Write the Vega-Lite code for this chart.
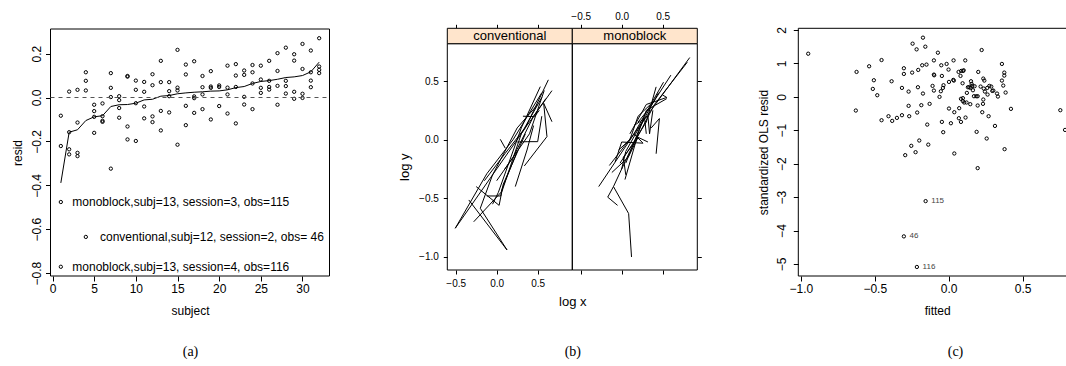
{
"$schema":"https://vega.github.io/schema/vega-lite/v6.json",
"width":1066,"height":366,"autosize":{"type":"none"},"padding":0,"background":"white",
"config":{
 "view":{"stroke":null},
 "axis":{"grid":false,"domain":false,"labelFont":"Liberation Sans","titleFont":"Liberation Sans","labelColor":"black","titleColor":"black","tickColor":"black","titleFontWeight":"normal","labelFontSize":12,"titleFontSize":12,"tickSize":5,"labelOverlap":false,"labelFlush":false,"labelBound":false,"tickWidth":1},
 "text":{"font":"Liberation Sans"}
},
"datasets":{
 "a_pts":[
  {"subject":1,"resid":-0.083},{"subject":1,"resid":-0.221},
  {"subject":2,"resid":0.027},{"subject":2,"resid":-0.158},{"subject":2,"resid":-0.236},{"subject":2,"resid":-0.259},
  {"subject":3,"resid":0.035},{"subject":3,"resid":-0.114},{"subject":3,"resid":-0.252},{"subject":3,"resid":-0.267},
  {"subject":4,"resid":0.115},{"subject":4,"resid":0.076},{"subject":4,"resid":0.032},
  {"subject":5,"resid":-0.033},{"subject":5,"resid":-0.062},{"subject":5,"resid":-0.088},{"subject":5,"resid":-0.161},
  {"subject":6,"resid":-0.027},{"subject":6,"resid":-0.085},{"subject":6,"resid":-0.106},{"subject":6,"resid":-0.111},
  {"subject":7,"resid":0.111},{"subject":7,"resid":0.044},{"subject":7,"resid":0.002},{"subject":7,"resid":-0.324},
  {"subject":8,"resid":0.006},{"subject":8,"resid":-0.012},{"subject":8,"resid":-0.048},{"subject":8,"resid":-0.092},
  {"subject":9,"resid":0.098},{"subject":9,"resid":0.095},{"subject":9,"resid":-0.132},{"subject":9,"resid":-0.191},
  {"subject":10,"resid":0.077},{"subject":10,"resid":0.035},{"subject":10,"resid":-0.026},{"subject":10,"resid":-0.198},
  {"subject":11,"resid":0.071},{"subject":11,"resid":0.026},{"subject":11,"resid":-0.041},{"subject":11,"resid":-0.095},
  {"subject":12,"resid":0.106},{"subject":12,"resid":0.056},{"subject":12,"resid":-0.086},{"subject":12,"resid":-0.112},
  {"subject":13,"resid":0.167},{"subject":13,"resid":0.07},{"subject":13,"resid":-0.061},{"subject":13,"resid":-0.15},
  {"subject":14,"resid":0.07},{"subject":14,"resid":0.029},{"subject":14,"resid":0.006},{"subject":14,"resid":-0.068},
  {"subject":15,"resid":0.217},{"subject":15,"resid":0.045},{"subject":15,"resid":0.032},{"subject":15,"resid":-0.215},
  {"subject":16,"resid":0.15},{"subject":16,"resid":0.105},{"subject":16,"resid":-0.038},{"subject":16,"resid":-0.126},
  {"subject":17,"resid":0.165},{"subject":17,"resid":0.005},{"subject":17,"resid":-0.003},{"subject":17,"resid":-0.07},
  {"subject":18,"resid":0.098},{"subject":18,"resid":0.047},{"subject":18,"resid":0.014},{"subject":18,"resid":-0.053},
  {"subject":19,"resid":0.12},{"subject":19,"resid":0.05},{"subject":19,"resid":0.044},{"subject":19,"resid":-0.1},
  {"subject":20,"resid":0.055},{"subject":20,"resid":0.048},{"subject":20,"resid":-0.039},
  {"subject":21,"resid":0.145},{"subject":21,"resid":0.045},{"subject":21,"resid":0.014},{"subject":21,"resid":-0.073},
  {"subject":22,"resid":0.152},{"subject":22,"resid":0.1},{"subject":22,"resid":0.048},{"subject":22,"resid":-0.118},
  {"subject":23,"resid":0.123},{"subject":23,"resid":0.103},{"subject":23,"resid":0.003},{"subject":23,"resid":-0.032},
  {"subject":24,"resid":0.148},{"subject":24,"resid":0.115},{"subject":24,"resid":0.064},{"subject":24,"resid":-0.053},
  {"subject":25,"resid":0.145},{"subject":25,"resid":0.082},{"subject":25,"resid":0.044},{"subject":25,"resid":0.021},
  {"subject":26,"resid":0.167},{"subject":26,"resid":0.076},{"subject":26,"resid":0.048},{"subject":26,"resid":0.036},
  {"subject":27,"resid":0.202},{"subject":27,"resid":0.121},{"subject":27,"resid":0.053},{"subject":27,"resid":-0.033},
  {"subject":28,"resid":0.227},{"subject":28,"resid":0.076},{"subject":28,"resid":0.052},{"subject":28,"resid":0.018},
  {"subject":29,"resid":0.197},{"subject":29,"resid":0.168},{"subject":29,"resid":0.026},{"subject":29,"resid":-0.006},
  {"subject":30,"resid":0.244},{"subject":30,"resid":0.13},{"subject":30,"resid":0.017},{"subject":30,"resid":-0.002},
  {"subject":31,"resid":0.214},{"subject":31,"resid":0.115},{"subject":31,"resid":0.077},{"subject":31,"resid":0.047},
  {"subject":32,"resid":0.27},{"subject":32,"resid":0.141},{"subject":32,"resid":0.126},{"subject":32,"resid":0.111}
 ],
 "a_smooth":[
  {"subject":1,"resid":-0.389},{"subject":2,"resid":-0.158},{"subject":3,"resid":-0.147},{"subject":4,"resid":-0.105},
  {"subject":5,"resid":-0.088},{"subject":6,"resid":-0.083},{"subject":7,"resid":-0.041},{"subject":8,"resid":-0.033},
  {"subject":9,"resid":-0.032},{"subject":10,"resid":-0.026},{"subject":11,"resid":-0.011},{"subject":12,"resid":-0.008},
  {"subject":13,"resid":0.006},{"subject":14,"resid":0.009},{"subject":15,"resid":0.017},{"subject":16,"resid":0.021},
  {"subject":17,"resid":0.024},{"subject":18,"resid":0.026},{"subject":19,"resid":0.029},{"subject":20,"resid":0.03},
  {"subject":21,"resid":0.035},{"subject":22,"resid":0.045},{"subject":23,"resid":0.05},{"subject":24,"resid":0.064},
  {"subject":25,"resid":0.073},{"subject":26,"resid":0.077},{"subject":27,"resid":0.083},{"subject":28,"resid":0.091},
  {"subject":29,"resid":0.094},{"subject":30,"resid":0.1},{"subject":31,"resid":0.117},{"subject":32,"resid":0.161}
 ],
 "a_notes":[
  {"px":1,"py":-0.476,"tx":2.38,"label":"monoblock,subj=13, session=3, obs=115"},
  {"px":4,"py":-0.635,"tx":5.7,"label":"conventional,subj=12, session=2, obs= 46"},
  {"px":1,"py":-0.771,"tx":2.38,"label":"monoblock,subj=13, session=4, obs=116"}
 ],
 "conv":[
  {"subj":1,"seq":1,"logx":-0.505,"logy":-0.755},{"subj":1,"seq":2,"logx":-0.12,"logy":-0.29},{"subj":1,"seq":3,"logx":0.2,"logy":0.0},{"subj":1,"seq":4,"logx":0.55,"logy":0.4},
  {"subj":2,"seq":1,"logx":-0.505,"logy":-0.755},{"subj":2,"seq":2,"logx":0.0,"logy":-0.25},{"subj":2,"seq":3,"logx":0.35,"logy":0.1},{"subj":2,"seq":4,"logx":0.63,"logy":0.51},
  {"subj":3,"seq":1,"logx":-0.28,"logy":-0.7},{"subj":3,"seq":2,"logx":0.065,"logy":-0.44},{"subj":3,"seq":3,"logx":0.3,"logy":0.05},{"subj":3,"seq":4,"logx":0.55,"logy":0.36},
  {"subj":4,"seq":1,"logx":-0.34,"logy":-0.514},{"subj":4,"seq":2,"logx":0.126,"logy":-0.94},{"subj":4,"seq":3,"logx":-0.2,"logy":-0.585},
  {"subj":5,"seq":1,"logx":-0.2,"logy":-0.585},{"subj":5,"seq":2,"logx":-0.05,"logy":-0.3},{"subj":5,"seq":3,"logx":0.25,"logy":0.1},{"subj":5,"seq":4,"logx":0.5,"logy":0.3},
  {"subj":6,"seq":1,"logx":0.227,"logy":-0.4},{"subj":6,"seq":2,"logx":0.37,"logy":-0.088},{"subj":6,"seq":3,"logx":0.45,"logy":0.12},
  {"subj":7,"seq":1,"logx":0.337,"logy":-0.224},{"subj":7,"seq":2,"logx":0.613,"logy":0.026},{"subj":7,"seq":3,"logx":0.573,"logy":0.31},{"subj":7,"seq":4,"logx":0.674,"logy":0.153},
  {"subj":8,"seq":1,"logx":0.32,"logy":0.2},{"subj":8,"seq":2,"logx":0.46,"logy":0.196},{"subj":8,"seq":3,"logx":0.52,"logy":0.25},
  {"subj":9,"seq":1,"logx":0.044,"logy":0.003},{"subj":9,"seq":2,"logx":0.105,"logy":-0.073},
  {"subj":10,"seq":1,"logx":-0.12,"logy":-0.48},{"subj":10,"seq":2,"logx":0.05,"logy":-0.48},{"subj":10,"seq":3,"logx":0.06,"logy":-0.43},{"subj":10,"seq":4,"logx":0.25,"logy":-0.1},
  {"subj":11,"seq":1,"logx":0.25,"logy":-0.02},{"subj":11,"seq":2,"logx":0.38,"logy":-0.017},{"subj":11,"seq":3,"logx":0.5,"logy":-0.017},{"subj":11,"seq":4,"logx":0.55,"logy":0.2},
  {"subj":12,"seq":1,"logx":-0.15,"logy":-0.35},{"subj":12,"seq":2,"logx":0.1,"logy":-0.12},{"subj":12,"seq":3,"logx":0.4,"logy":0.15},{"subj":12,"seq":4,"logx":0.674,"logy":0.418},
  {"subj":13,"seq":1,"logx":-0.05,"logy":-0.55},{"subj":13,"seq":2,"logx":0.02,"logy":-0.45},{"subj":13,"seq":3,"logx":0.3,"logy":0.1},{"subj":13,"seq":4,"logx":0.532,"logy":0.452},
  {"subj":14,"seq":1,"logx":0.0,"logy":-0.35},{"subj":14,"seq":2,"logx":0.2,"logy":-0.15},{"subj":14,"seq":3,"logx":0.45,"logy":0.2},{"subj":14,"seq":4,"logx":0.6,"logy":0.35},
  {"subj":15,"seq":1,"logx":0.1,"logy":-0.25},{"subj":15,"seq":2,"logx":0.15,"logy":-0.2},{"subj":15,"seq":3,"logx":0.4,"logy":0.05},{"subj":15,"seq":4,"logx":0.58,"logy":0.42},
  {"subj":16,"seq":1,"logx":-0.25,"logy":-0.4},{"subj":16,"seq":2,"logx":0.03,"logy":-0.56},{"subj":16,"seq":3,"logx":0.08,"logy":-0.38},{"subj":16,"seq":4,"logx":0.35,"logy":0.05}
 ],
 "mono":[
  {"subj":1,"seq":1,"logx":-0.28,"logy":-0.4},{"subj":1,"seq":2,"logx":0.2,"logy":0.1},{"subj":1,"seq":3,"logx":0.83,"logy":0.7},
  {"subj":2,"seq":1,"logx":0.12,"logy":-1.0},{"subj":2,"seq":2,"logx":0.085,"logy":-0.63},{"subj":2,"seq":3,"logx":-0.1,"logy":-0.4},{"subj":2,"seq":4,"logx":-0.17,"logy":-0.49},{"subj":2,"seq":5,"logx":-0.05,"logy":-0.56},
  {"subj":3,"seq":1,"logx":-0.1,"logy":-0.4},{"subj":3,"seq":2,"logx":0.1,"logy":-0.1},{"subj":3,"seq":3,"logx":0.4,"logy":0.3},{"subj":3,"seq":4,"logx":0.8,"logy":0.66},
  {"subj":4,"seq":1,"logx":-0.15,"logy":-0.22},{"subj":4,"seq":2,"logx":0.15,"logy":0.05},{"subj":4,"seq":3,"logx":0.51,"logy":0.49},
  {"subj":5,"seq":1,"logx":0.04,"logy":-0.34},{"subj":5,"seq":2,"logx":0.2,"logy":0.05},{"subj":5,"seq":3,"logx":0.3,"logy":0.25},{"subj":5,"seq":4,"logx":0.55,"logy":0.35},
  {"subj":6,"seq":1,"logx":0.42,"logy":-0.12},{"subj":6,"seq":2,"logx":0.46,"logy":0.18},{"subj":6,"seq":3,"logx":0.36,"logy":0.1},
  {"subj":7,"seq":1,"logx":-0.08,"logy":-0.19},{"subj":7,"seq":2,"logx":0.0,"logy":-0.02},{"subj":7,"seq":3,"logx":0.26,"logy":-0.03},{"subj":7,"seq":4,"logx":0.15,"logy":0.05},
  {"subj":8,"seq":1,"logx":-0.04,"logy":-0.09},{"subj":8,"seq":2,"logx":0.1,"logy":0.0},{"subj":8,"seq":3,"logx":0.2,"logy":0.2},{"subj":8,"seq":4,"logx":0.35,"logy":0.3},
  {"subj":9,"seq":1,"logx":0.0,"logy":-0.25},{"subj":9,"seq":2,"logx":0.05,"logy":-0.1},{"subj":9,"seq":3,"logx":0.25,"logy":0.15},{"subj":9,"seq":4,"logx":0.45,"logy":0.4},
  {"subj":10,"seq":1,"logx":0.05,"logy":-0.2},{"subj":10,"seq":2,"logx":0.22,"logy":0.1},{"subj":10,"seq":3,"logx":0.28,"logy":0.18},{"subj":10,"seq":4,"logx":0.3,"logy":0.05},
  {"subj":11,"seq":1,"logx":0.1,"logy":0.05},{"subj":11,"seq":2,"logx":0.3,"logy":0.3},{"subj":11,"seq":3,"logx":0.55,"logy":0.36},{"subj":11,"seq":4,"logx":0.5,"logy":0.38},
  {"subj":12,"seq":1,"logx":-0.12,"logy":-0.28},{"subj":12,"seq":2,"logx":0.08,"logy":-0.15},{"subj":12,"seq":3,"logx":0.2,"logy":0.02},{"subj":12,"seq":4,"logx":0.32,"logy":-0.02},
  {"subj":13,"seq":1,"logx":0.15,"logy":0.12},{"subj":13,"seq":2,"logx":0.32,"logy":0.2},{"subj":13,"seq":3,"logx":0.34,"logy":0.05},{"subj":13,"seq":4,"logx":0.38,"logy":0.25},
  {"subj":14,"seq":1,"logx":-0.02,"logy":-0.2},{"subj":14,"seq":2,"logx":0.12,"logy":-0.05},{"subj":14,"seq":3,"logx":0.3,"logy":0.15},{"subj":14,"seq":4,"logx":0.42,"logy":0.45},
  {"subj":15,"seq":1,"logx":0.05,"logy":-0.3},{"subj":15,"seq":2,"logx":0.02,"logy":-0.15},{"subj":15,"seq":3,"logx":0.18,"logy":0.0},
  {"subj":16,"seq":1,"logx":0.2,"logy":0.15},{"subj":16,"seq":2,"logx":0.35,"logy":0.28},{"subj":16,"seq":3,"logx":0.6,"logy":0.55}
 ],
 "c_pts":[
  {"fitted":-0.95,"resid":1.29},{"fitted":-0.623,"resid":0.745},{"fitted":-0.628,"resid":-0.41},{"fitted":-0.538,"resid":0.914},{"fitted":-0.506,"resid":0.496},
  {"fitted":-0.513,"resid":0.237},{"fitted":-0.483,"resid":0.048},{"fitted":-0.454,"resid":1.1},{"fitted":-0.454,"resid":-0.7},{"fitted":-0.407,"resid":-0.58},
  {"fitted":-0.386,"resid":0.466},{"fitted":-0.382,"resid":-0.72},{"fitted":-0.35,"resid":-0.63},{"fitted":-0.316,"resid":0.267},{"fitted":-0.316,"resid":-0.55},
  {"fitted":-0.303,"resid":0.855},{"fitted":-0.303,"resid":0.685},{"fitted":-0.294,"resid":-1.745},{"fitted":-0.271,"resid":0.157},{"fitted":-0.271,"resid":-0.27},
  {"fitted":-0.267,"resid":-0.58},{"fitted":-0.253,"resid":-1.466},{"fitted":-0.247,"resid":0.725},{"fitted":-0.244,"resid":1.59},{"fitted":-0.224,"resid":-1.656},
  {"fitted":-0.217,"resid":1.42},{"fitted":-0.213,"resid":-0.47},{"fitted":-0.208,"resid":0.287},{"fitted":-0.206,"resid":0.805},{"fitted":-0.199,"resid":-1.307},
  {"fitted":-0.179,"resid":0.944},{"fitted":-0.174,"resid":1.77},{"fitted":-0.185,"resid":-0.25},{"fitted":-0.174,"resid":0.098},{"fitted":-0.158,"resid":1.5},
  {"fitted":-0.15,"resid":0.964},{"fitted":-0.145,"resid":-0.83},{"fitted":-0.138,"resid":-1.43},{"fitted":-0.129,"resid":-0.21},{"fitted":-0.109,"resid":0.327},
  {"fitted":-0.1,"resid":1.09},{"fitted":-0.1,"resid":0.665},{"fitted":-0.098,"resid":0.645},{"fitted":-0.1,"resid":0.187},{"fitted":-0.073,"resid":1.32},
  {"fitted":-0.062,"resid":-0.002},{"fitted":-0.05,"resid":0.944},{"fitted":-0.053,"resid":0.167},{"fitted":-0.046,"resid":-0.75},{"fitted":-0.046,"resid":0.625},
  {"fitted":-0.039,"resid":0.267},{"fitted":-0.037,"resid":-1.058},{"fitted":-0.035,"resid":0.347},{"fitted":-0.014,"resid":0.984},{"fitted":-0.001,"resid":0.815},
  {"fitted":0.002,"resid":-0.35},{"fitted":0.002,"resid":0.446},{"fitted":0.015,"resid":-0.79},{"fitted":0.031,"resid":0.506},{"fitted":0.035,"resid":0.486},
  {"fitted":0.033,"resid":1.09},{"fitted":0.038,"resid":-1.695},{"fitted":0.038,"resid":-0.46},{"fitted":0.067,"resid":0.745},{"fitted":0.069,"resid":-0.64},
  {"fitted":0.071,"resid":-0.34},{"fitted":0.08,"resid":0.625},{"fitted":0.083,"resid":-0.75},{"fitted":0.083,"resid":-0.06},{"fitted":0.085,"resid":0.775},
  {"fitted":0.094,"resid":0.406},{"fitted":0.096,"resid":-0.13},{"fitted":0.096,"resid":-0.04},{"fitted":0.098,"resid":0.775},{"fitted":0.101,"resid":0.795},
  {"fitted":0.105,"resid":-0.17},{"fitted":0.114,"resid":-0.62},{"fitted":0.112,"resid":1.09},{"fitted":0.121,"resid":-0.17},{"fitted":0.123,"resid":0.118},
  {"fitted":0.13,"resid":0.287},{"fitted":0.139,"resid":0.287},{"fitted":0.146,"resid":-0.22},{"fitted":0.148,"resid":0.267},{"fitted":0.151,"resid":0.466},
  {"fitted":0.155,"resid":0.386},{"fitted":0.16,"resid":0.327},{"fitted":0.164,"resid":0.197},{"fitted":0.171,"resid":0.018},{"fitted":0.175,"resid":0.317},
  {"fitted":0.187,"resid":0.018},{"fitted":0.189,"resid":-1.048},{"fitted":0.196,"resid":-0.26},{"fitted":0.196,"resid":0.018},{"fitted":0.2,"resid":0.745},
  {"fitted":0.196,"resid":-2.133},{"fitted":0.216,"resid":0.307},{"fitted":0.223,"resid":1.4},{"fitted":0.227,"resid":-0.46},{"fitted":0.232,"resid":-0.21},
  {"fitted":0.234,"resid":-0.08},{"fitted":0.237,"resid":0.247},{"fitted":0.234,"resid":0.546},{"fitted":0.241,"resid":0.486},{"fitted":0.245,"resid":0.157},
  {"fitted":0.257,"resid":-1.247},{"fitted":0.261,"resid":0.267},{"fitted":0.263,"resid":0.068},{"fitted":0.27,"resid":-0.58},{"fitted":0.275,"resid":0.327},
  {"fitted":0.288,"resid":0.307},{"fitted":0.295,"resid":0.177},{"fitted":0.302,"resid":0.187},{"fitted":0.313,"resid":-0.87},{"fitted":0.327,"resid":0.098},
  {"fitted":0.333,"resid":0.008},{"fitted":0.36,"resid":0.984},{"fitted":0.36,"resid":0.486},{"fitted":0.369,"resid":0.337},{"fitted":0.376,"resid":0.725},
  {"fitted":0.376,"resid":0.635},{"fitted":0.378,"resid":-1.566},{"fitted":0.385,"resid":0.128},{"fitted":0.421,"resid":-0.36},{"fitted":0.755,"resid":-0.4},
  {"fitted":0.787,"resid":-0.99}
 ],
 "c_lab":[
  {"fitted":-0.156,"resid":-3.12,"obs":"115"},{"fitted":-0.303,"resid":-4.175,"obs":"46"},{"fitted":-0.215,"resid":-5.09,"obs":"116"}
 ]
},
"layer":[
 {"layer":[
  {"data":{"name":"a_pts"},"mark":{"type":"point","shape":"circle","size":11,"strokeWidth":1,"color":"black","opacity":1},
   "encoding":{
    "x":{"field":"subject","type":"quantitative","scale":{"domain":[-0.24,33.24],"range":[50.5,329.5],"nice":false,"zero":false},
     "axis":{"orient":"bottom","offset":-90,"values":[0,5,10,15,20,25,30],"labelAngle":0,"labelAlign":"center","labelBaseline":"alphabetic","labelPadding":11.5,"title":"subject","titleX":190,"titleY":38.3,"titleAlign":"center","titleBaseline":"alphabetic","titleAngle":0}},
    "y":{"field":"resid","type":"quantitative","scale":{"domain":[-0.813,0.312],"range":[276,29],"nice":false,"zero":false},
     "axis":{"orient":"left","offset":-50.5,"values":[-0.8,-0.6,-0.4,-0.2,0,0.2],"format":".1f","labelAngle":-90,"labelAlign":"center","labelBaseline":"alphabetic","labelPadding":5,"title":"resid","titleX":-29.5,"titleY":152.5,"titleAngle":-90,"titleAlign":"center","titleBaseline":"alphabetic"}}
   }},
  {"data":{"name":"a_smooth"},"mark":{"type":"line","color":"black","strokeWidth":1},
   "encoding":{"x":{"field":"subject","type":"quantitative"},"y":{"field":"resid","type":"quantitative"}}}
 ]},
 {"layer":[
  {"data":{"values":[{}]},"mark":{"type":"rect","filled":false,"color":"black","strokeWidth":1},
   "encoding":{
    "x":{"datum":-0.24,"type":"quantitative","scale":{"domain":[-0.24,33.24],"range":[50.5,329.5],"nice":false,"zero":false},
     "axis":{"orient":"bottom","offset":-90,"ticks":false,"labels":false,"domain":false,"title":"(a)","titleFont":"Liberation Serif","titleFontSize":14,"titleX":190,"titleY":79.5,"titleAlign":"center","titleBaseline":"alphabetic","titleAngle":0}},
    "x2":{"datum":33.24},
    "y":{"datum":-0.813,"type":"quantitative","scale":{"domain":[-0.813,0.312],"range":[276,29],"nice":false,"zero":false},"axis":null},
    "y2":{"datum":0.312}}},
  {"data":{"values":[{}]},"mark":{"type":"rule","color":"#555555","strokeDash":[4,4],"strokeWidth":1},
   "encoding":{"x":{"datum":-0.24,"type":"quantitative"},"x2":{"datum":33.24},"y":{"datum":0,"type":"quantitative","axis":null}}},
  {"data":{"name":"a_notes"},"mark":{"type":"point","shape":"circle","size":11,"strokeWidth":1,"color":"black","opacity":1},
   "encoding":{"x":{"field":"px","type":"quantitative"},"y":{"field":"py","type":"quantitative","axis":null}}},
  {"data":{"name":"a_notes"},"mark":{"type":"text","align":"left","baseline":"middle","fontSize":12,"color":"black","font":"Liberation Sans"},
   "encoding":{"x":{"field":"tx","type":"quantitative"},"y":{"field":"py","type":"quantitative","axis":null},"text":{"field":"label"}}}
 ]},
 {"layer":[
  {"data":{"name":"conv"},"mark":{"type":"line","color":"black","strokeWidth":1},
   "encoding":{
    "x":{"field":"logx","type":"quantitative","scale":{"domain":[-0.602,0.922],"range":[447.3,572.3],"nice":false,"zero":false},
     "axis":{"orient":"bottom","offset":-96,"values":[-0.5,0,0.5],"format":".1f","labelFontSize":10,"tickSize":4,"labelPadding":4.3,"labelBaseline":"top","labelAlign":"center","labelAngle":0,"title":"log x","titleFontSize":13,"titleX":572.3,"titleY":35,"titleAlign":"center","titleBaseline":"alphabetic","titleAngle":0}},
    "y":{"field":"logy","type":"quantitative","scale":{"domain":[-1.111,0.818],"range":[270,43.7],"nice":false,"zero":false},
     "axis":{"orient":"left","offset":-447.3,"values":[-1,-0.5,0,0.5],"format":".1f","labelFontSize":10,"tickSize":4,"labelPadding":5,"labelAlign":"right","labelBaseline":"middle","labelAngle":0,"title":"log y","titleFontSize":13,"titleAngle":-90,"titleX":-39,"titleY":166.7,"titleAlign":"center","titleBaseline":"alphabetic"}},
    "detail":{"field":"subj"},
    "order":{"field":"seq"}
   }},
  {"data":{"values":[{}]},"mark":{"type":"rect","filled":false,"color":"black","strokeWidth":1},
   "encoding":{"x":{"datum":-0.602,"type":"quantitative"},"x2":{"datum":0.922},"y":{"datum":-1.111,"type":"quantitative"},"y2":{"datum":0.818}}}
 ]},
 {"layer":[
  {"data":{"name":"mono"},"mark":{"type":"line","color":"black","strokeWidth":1},
   "encoding":{
    "x":{"field":"logx","type":"quantitative","scale":{"domain":[-0.602,0.922],"range":[572.3,697.3],"nice":false,"zero":false},
     "axis":{"orient":"top","offset":-28.3,"values":[-0.5,0,0.5],"format":".1f","labelFontSize":10,"tickSize":4,"labelPadding":4.7,"labelBaseline":"alphabetic","labelAlign":"center","labelAngle":0,"title":null}},
    "y":{"field":"logy","type":"quantitative","scale":{"domain":[-1.111,0.818],"range":[270,43.7],"nice":false,"zero":false},
     "axis":{"orient":"right","offset":-368.7,"values":[-1,-0.5,0,0.5],"labels":false,"tickSize":4,"title":null}},
    "detail":{"field":"subj"},
    "order":{"field":"seq"}
   }},
  {"data":{"values":[{}]},"mark":{"type":"rect","filled":false,"color":"black","strokeWidth":1},
   "encoding":{"x":{"datum":-0.602,"type":"quantitative"},"x2":{"datum":0.922},"y":{"datum":-1.111,"type":"quantitative"},"y2":{"datum":0.818}}}
 ]},
 {"layer":[
  {"data":{"values":[{"name":"conventional"}]},"mark":{"type":"rect","fill":"#ffe5cc","stroke":"black","strokeWidth":1},
   "encoding":{
    "x":{"datum":-0.602,"type":"quantitative","scale":{"domain":[-0.602,0.922],"range":[447.3,572.3],"nice":false,"zero":false},
     "axis":{"orient":"top","offset":-28.3,"values":[-0.5,0,0.5],"labels":false,"tickSize":4,"title":null}},
    "x2":{"datum":0.922},
    "y":{"datum":0,"type":"quantitative","scale":{"domain":[0,1],"range":[43.7,28.3],"nice":false,"zero":false},"axis":null},
    "y2":{"datum":1}}},
  {"data":{"values":[{"name":"conventional"}]},"mark":{"type":"text","fontSize":13,"align":"center","baseline":"middle","color":"black","font":"Liberation Sans"},
   "encoding":{"x":{"datum":0.16,"type":"quantitative"},"y":{"datum":0.5,"type":"quantitative","axis":null},"text":{"field":"name"}}}
 ]},
 {"layer":[
  {"data":{"values":[{"name":"monoblock"}]},"mark":{"type":"rect","fill":"#ffe5cc","stroke":"black","strokeWidth":1},
   "encoding":{
    "x":{"datum":-0.602,"type":"quantitative","scale":{"domain":[-0.602,0.922],"range":[572.3,697.3],"nice":false,"zero":false},
     "axis":{"orient":"bottom","offset":-96,"values":[-0.5,0,0.5],"labels":false,"tickSize":4,"title":"(b)","titleFont":"Liberation Serif","titleFontSize":14,"titleX":572.3,"titleY":85.5,"titleAlign":"center","titleBaseline":"alphabetic","titleAngle":0}},
    "x2":{"datum":0.922},
    "y":{"datum":0,"type":"quantitative","scale":{"domain":[0,1],"range":[43.7,28.3],"nice":false,"zero":false},"axis":null},
    "y2":{"datum":1}}},
  {"data":{"values":[{"name":"monoblock"}]},"mark":{"type":"text","fontSize":13,"align":"center","baseline":"middle","color":"black","font":"Liberation Sans"},
   "encoding":{"x":{"datum":0.16,"type":"quantitative"},"y":{"datum":0.5,"type":"quantitative","axis":null},"text":{"field":"name"}}}
 ]},
 {"layer":[
  {"data":{"name":"c_pts"},"mark":{"type":"point","shape":"circle","size":11,"strokeWidth":1,"color":"black","opacity":1},
   "encoding":{
    "x":{"field":"fitted","type":"quantitative","scale":{"domain":[-1.017,0.861],"range":[798.3,1076],"nice":false,"zero":false},
     "axis":{"orient":"bottom","offset":-90,"values":[-1,-0.5,0,0.5],"format":".1f","labelAngle":0,"labelAlign":"center","labelBaseline":"alphabetic","labelPadding":11.5,"title":"fitted","titleX":937.2,"titleY":38.3,"titleAlign":"center","titleBaseline":"alphabetic","titleAngle":0}},
    "y":{"field":"resid","type":"quantitative","scale":{"domain":[-5.36,2.05],"range":[276,28.3],"nice":false,"zero":false},
     "axis":{"orient":"left","offset":-798.3,"values":[-5,-4,-3,-2,-1,0,1,2],"format":"d","labelAngle":-90,"labelAlign":"center","labelBaseline":"alphabetic","labelPadding":7.5,"title":"standardized OLS resid","titleX":-30.7,"titleY":152,"titleAngle":-90,"titleAlign":"center","titleBaseline":"alphabetic"}}
   }},
  {"data":{"name":"c_lab"},"mark":{"type":"point","shape":"circle","size":11,"strokeWidth":1,"color":"black","opacity":1},
   "encoding":{"x":{"field":"fitted","type":"quantitative"},"y":{"field":"resid","type":"quantitative"}}},
  {"data":{"name":"c_lab"},"mark":{"type":"text","align":"left","baseline":"middle","fontSize":8,"dx":5.7,"color":"#444444","font":"Liberation Sans"},
   "encoding":{"x":{"field":"fitted","type":"quantitative"},"y":{"field":"resid","type":"quantitative"},"text":{"field":"obs"}}}
 ]},
 {"layer":[
  {"data":{"values":[{}]},"mark":{"type":"rect","filled":false,"color":"black","strokeWidth":1},
   "encoding":{
    "x":{"datum":-1.017,"type":"quantitative","scale":{"domain":[-1.017,0.861],"range":[798.3,1076],"nice":false,"zero":false},
     "axis":{"orient":"bottom","offset":-90,"ticks":false,"labels":false,"domain":false,"title":"(c)","titleFont":"Liberation Serif","titleFontSize":14,"titleX":955,"titleY":79.5,"titleAlign":"center","titleBaseline":"alphabetic","titleAngle":0}},
    "x2":{"datum":0.861},
    "y":{"datum":-5.36,"type":"quantitative","scale":{"domain":[-5.36,2.05],"range":[276,28.3],"nice":false,"zero":false},"axis":null},
    "y2":{"datum":2.05}}}
 ]}
],
"resolve":{"scale":{"x":"independent","y":"independent"}}
}
